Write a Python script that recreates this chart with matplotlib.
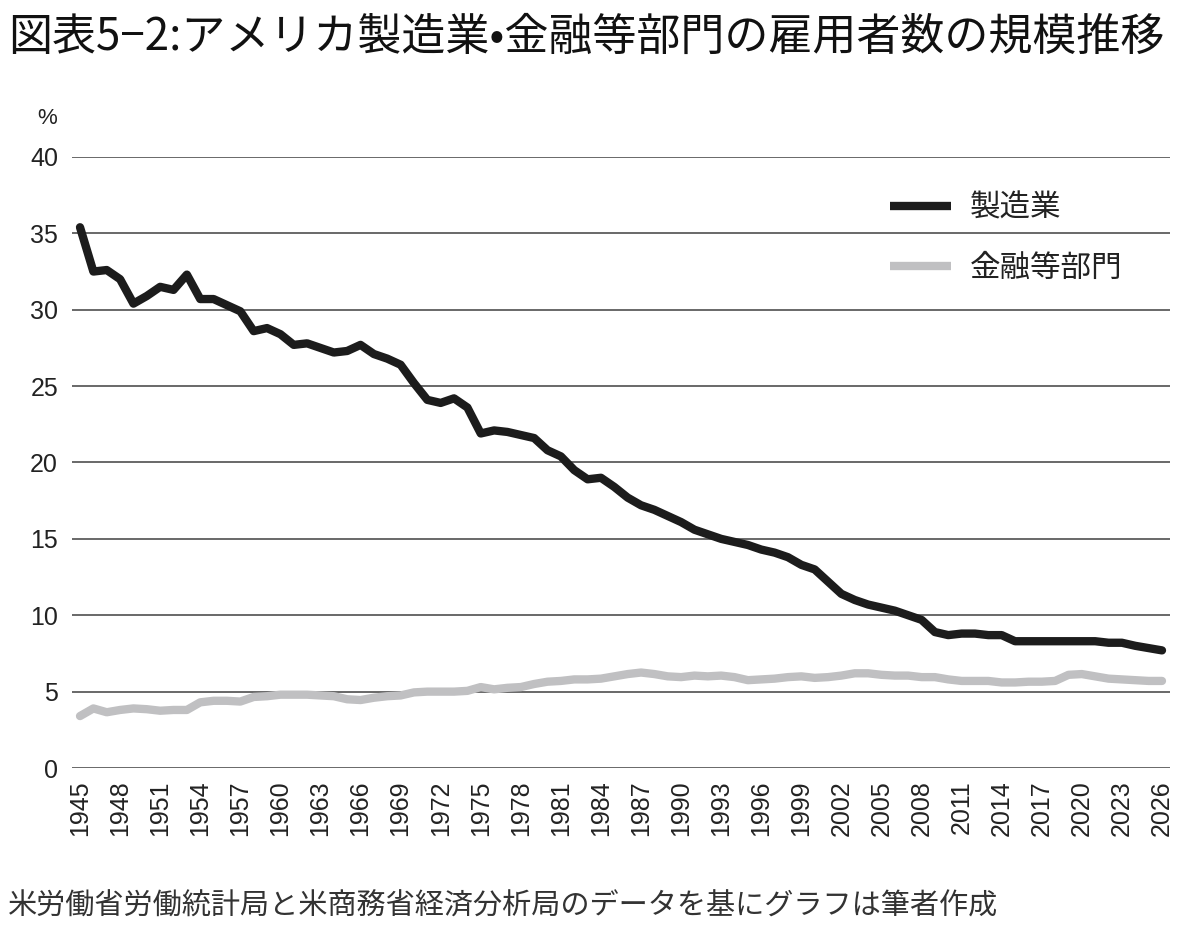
"""アメリカ製造業・金融等部門の雇用者数の規模推移."""

import matplotlib

matplotlib.use("Agg")

import matplotlib.pyplot as plt
from matplotlib import font_manager

plt.rcParams["font.family"] = ["Noto Sans CJK JP", "DejaVu Sans"]

TITLE = "図表5−2:アメリカ製造業•金融等部門の雇用者数の規模推移"
SOURCE = "米労働省労働統計局と米商務省経済分析局のデータを基にグラフは筆者作成"
UNIT = "%"

years = list(range(1945, 2027))
tick_years = list(range(1945, 2027, 3))
y_ticks = [0, 5, 10, 15, 20, 25, 30, 35, 40]

series_names = ["製造業", "金融等部門"]

manufacturing = [
    35.4, 32.5, 32.6, 32.0, 30.4, 30.9, 31.5, 31.3, 32.3, 30.7,
    30.7, 30.3, 29.9, 28.6, 28.8, 28.4, 27.7, 27.8, 27.5, 27.2,
    27.3, 27.7, 27.1, 26.8, 26.4, 25.2, 24.1, 23.9, 24.2, 23.6,
    21.9, 22.1, 22.0, 21.8, 21.6, 20.8, 20.4, 19.5, 18.9, 19.0,
    18.4, 17.7, 17.2, 16.9, 16.5, 16.1, 15.6, 15.3, 15.0, 14.8,
    14.6, 14.3, 14.1, 13.8, 13.3, 13.0, 12.2, 11.4, 11.0, 10.7,
    10.5, 10.3, 10.0, 9.7, 8.9, 8.7, 8.8, 8.8, 8.7, 8.7,
    8.3, 8.3, 8.3, 8.3, 8.3, 8.3, 8.3, 8.2, 8.2, 8.0,
    7.85, 7.7,
]

finance = [
    3.4, 3.9, 3.65, 3.8, 3.9, 3.85, 3.75, 3.8, 3.8, 4.3,
    4.4, 4.4, 4.35, 4.65, 4.7, 4.8, 4.8, 4.8, 4.75, 4.7,
    4.5, 4.45, 4.6, 4.7, 4.75, 4.95, 5.0, 5.0, 5.0, 5.05,
    5.3, 5.15, 5.25, 5.3, 5.5, 5.65, 5.7, 5.8, 5.8, 5.85,
    6.0, 6.15, 6.25, 6.15, 6.0, 5.95, 6.05, 6.0, 6.05, 5.95,
    5.75, 5.8, 5.85, 5.95, 6.0, 5.9, 5.95, 6.05, 6.2, 6.2,
    6.1, 6.05, 6.05, 5.95, 5.95, 5.8, 5.7, 5.7, 5.7, 5.6,
    5.6, 5.65, 5.65, 5.7, 6.1, 6.15, 6.0, 5.85, 5.8, 5.75,
    5.7, 5.7,
]

series_colors = ["#1c1c1c", "#c0c0c2"]


def latin_font() -> str:
    """Fuente latina para los números de los ejes."""
    available = {entry.name for entry in font_manager.fontManager.ttflist}
    for name in ("Liberation Sans", "Arial", "DejaVu Sans"):
        if name in available:
            return name
    return "DejaVu Sans"


def main() -> None:
    figure = plt.figure(figsize=(12, 9.35), dpi=100)
    axis = figure.add_axes([0.06, 0.1786, 0.915, 0.6535])

    for values, name, color in zip(
        [manufacturing, finance],
        series_names,
        series_colors,
    ):
        axis.plot(
            years,
            values,
            color=color,
            linewidth=6.0,
            solid_joinstyle="round",
            solid_capstyle="round",
            label=name,
            zorder=3,
        )

    axis.set_xlim(1944.4, 2026.6)
    axis.set_ylim(0, 40)

    axis.set_yticks(y_ticks)
    axis.set_xticks(tick_years)

    number_font = latin_font()

    axis.set_yticklabels(
        [str(value) for value in y_ticks],
        family=number_font,
        fontsize=18,
        color="#222222",
    )
    axis.set_xticklabels(
        [str(value) for value in tick_years],
        family=number_font,
        fontsize=18,
        color="#222222",
        rotation=90,
    )

    axis.tick_params(axis="both", length=0)
    axis.tick_params(axis="y", pad=10)
    axis.tick_params(axis="x", pad=9)

    for spine in axis.spines.values():
        spine.set_visible(False)

    axis.grid(
        True,
        axis="y",
        color="#4f4f4f",
        linewidth=1.2,
        zorder=1,
    )
    axis.set_axisbelow(True)

    legend = axis.legend(
        loc="upper left",
        bbox_to_anchor=(0.745, 0.942),
        frameon=False,
        fontsize=22,
        borderaxespad=0,
        borderpad=0,
        handlelength=2.0,
        handletextpad=0.6,
        labelspacing=0.95,
    )
    for text in legend.get_texts():
        text.set_color("#222222")
    for handle in legend.get_lines():
        handle.set_solid_capstyle("butt")

    figure.text(
        0.007,
        0.985,
        TITLE,
        fontsize=31.7,
        color="#111111",
        ha="left",
        va="top",
    )

    figure.text(
        0.031,
        0.862,
        UNIT,
        family=number_font,
        fontsize=16,
        color="#222222",
        ha="left",
        va="bottom",
    )

    figure.text(
        0.007,
        0.014,
        SOURCE,
        fontsize=21,
        color="#333333",
        ha="left",
        va="bottom",
    )

    figure.savefig("out.png", dpi=100)
    plt.close(figure)


if __name__ == "__main__":
    main()
